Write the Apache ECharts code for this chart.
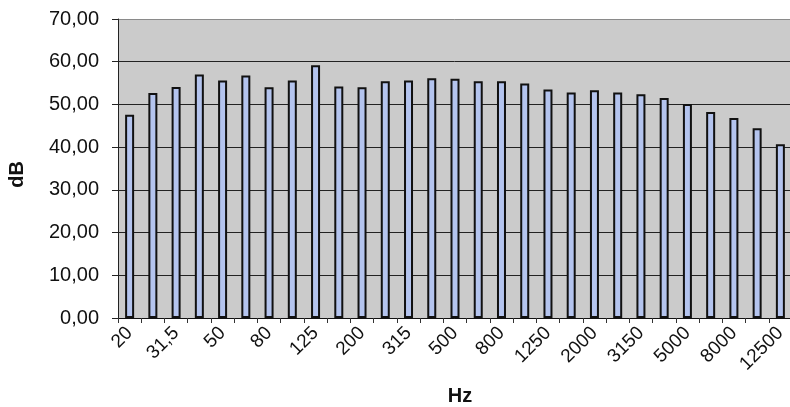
<!DOCTYPE html>
<html>
<head>
<meta charset="utf-8">
<script src="https://cdn.jsdelivr.net/npm/echarts@6/dist/echarts.min.js"></script>
<style>
  html, body { margin: 0; padding: 0; background: #fff; }
  #chart { width: 790px; height: 407px; }
</style>
</head>
<body>
<div id="chart"></div>
<script>
// third-octave bands (Hz)
var bands = ["20", "25", "31,5", "40", "50", "63", "80", "100", "125", "160",
  "200", "250", "315", "400", "500", "630", "800", "1000", "1250", "1600",
  "2000", "2500", "3150", "4000", "5000", "6300", "8000", "10000", "12500"];
// level per band (dB)
var levels = [47.6, 52.7, 54.1, 57.0, 55.6, 56.8, 54.0, 55.6, 59.2, 54.2,
  54.0, 55.4, 55.6, 56.1, 56.0, 55.4, 55.4, 54.9, 53.5, 52.8,
  53.3, 52.8, 52.4, 51.5, 50.1, 48.2, 46.8, 44.4, 40.7];
var yTicks = [0, 10, 20, 30, 40, 50, 60, 70];

var font = "Liberation Sans, Arial, sans-serif";
var myChart = echarts.init(document.getElementById("chart"));

var option = {
  animation: false,
  grid: {
    left: 118,
    right: -2,
    top: 19,
    bottom: 89,
    containLabel: false,
    outerBoundsMode: "none",
    show: true,
    backgroundColor: "#cbcbcb",
    borderWidth: 0
  },
  xAxis: {
    type: "category",
    data: bands,
    name: "Hz",
    nameLocation: "middle",
    nameGap: 68,
    nameTextStyle: {
      fontFamily: font,
      fontSize: 20,
      fontWeight: "bold",
      color: "#111",
      padding: [0, 0, 0, 10]
    },
    axisLine: { lineStyle: { color: "#111", width: 1 } },
    axisTick: {
      show: true,
      interval: 0,
      length: 5,
      lineStyle: { color: "#333" }
    },
    axisLabel: {
      interval: 1,
      rotate: 45,
      margin: 12,
      fontFamily: font,
      fontSize: 19,
      color: "#111"
    }
  },
  yAxis: {
    type: "value",
    min: yTicks[0],
    max: yTicks[yTicks.length - 1],
    interval: 10,
    name: "dB",
    nameLocation: "middle",
    nameGap: 91,
    nameRotate: 90,
    nameTextStyle: {
      fontFamily: font,
      fontSize: 20,
      fontWeight: "bold",
      color: "#111",
      padding: [0, 12, 0, 0]
    },
    axisLine: { show: true, lineStyle: { color: "#222", width: 1 } },
    axisTick: { show: true, inside: false, length: 6, lineStyle: { color: "#222" } },
    splitLine: {
      show: true,
      lineStyle: {
        color: ["#222", "#222", "#222", "#222", "#222", "#222", "#222", "#8a8a8a"],
        width: 1
      }
    },
    axisLabel: {
      margin: 19,
      fontFamily: font,
      fontSize: 20,
      color: "#111",
      formatter: function (v) {
        return v.toFixed(2).replace(".", ",");
      }
    }
  },
  series: [
    {
      type: "bar",
      data: levels,
      barWidth: 9,
      itemStyle: {
        color: "#b4c4ee",
        borderColor: "#111",
        borderWidth: 2
      }
    }
  ]
};

myChart.setOption(option);
</script>
</body>
</html>
